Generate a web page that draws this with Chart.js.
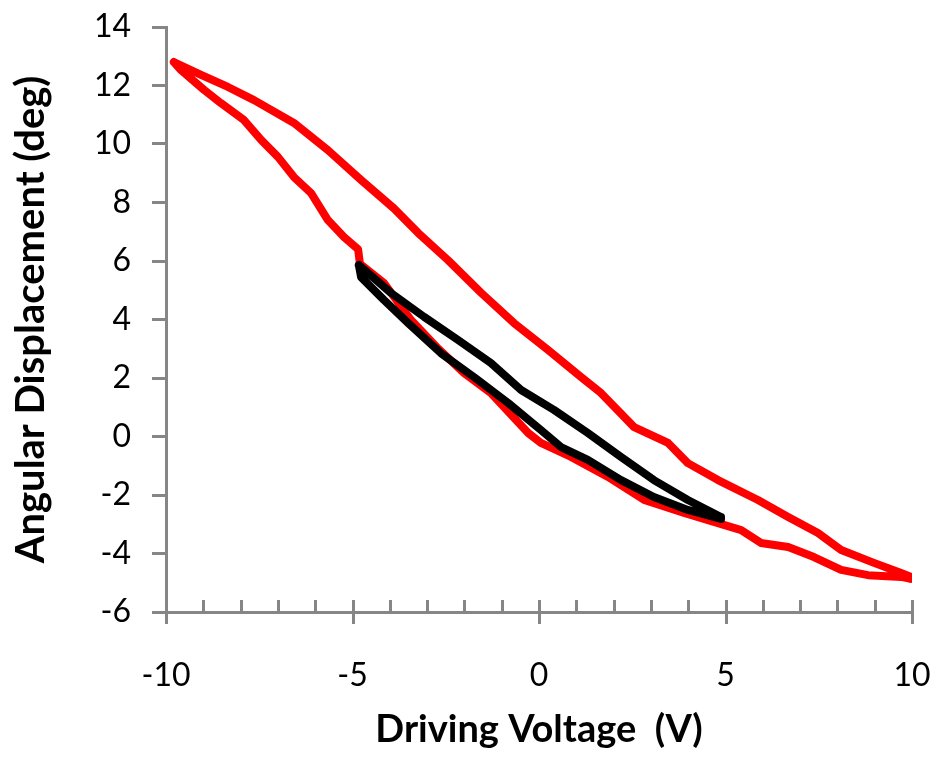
<!DOCTYPE html>
<html>
<head>
<meta charset="utf-8">
<title>Angular displacement vs driving voltage</title>
<script src="https://cdn.jsdelivr.net/npm/chart.js@4.4.1/dist/chart.umd.min.js"></script>
<style>
  html, body { margin: 0; padding: 0; background: #fff; }
  #wrap { width: 940px; height: 758px; }
</style>
</head>
<body>
<div id="wrap"><canvas id="chart" width="940" height="758"></canvas></div>
<script>
// Tick values
const xTicks = [-10, -5, 0, 5, 10];
const yTicks = [-6, -4, -2, 0, 2, 4, 6, 8, 10, 12, 14];
const xMinorStep = 1;

// Red loop (+/-10 V): upper branch left->right, then lower branch right->left
const redX = [
  -9.79, -9.06, -8.34, -7.64, -6.57, -5.66, -4.77, -3.89, -3.24, -2.44,
  -1.55, -0.67, 0.24, 1.13, 1.66, 2.55, 3.46, 3.99, 4.80, 5.87,
  6.68, 7.48, 8.10, 8.98, 9.71, 9.97,
  9.97, 9.71, 8.82, 8.10, 7.37, 6.68, 5.95, 5.42, 4.80, 3.89,
  2.82, 1.85, 0.86, 0.05, -0.29, -1.29, -2.01, -2.70, -3.43, -4.16,
  -4.80, -4.85, -5.23, -5.66, -6.11, -6.57, -7.00, -7.45, -7.91, -8.53,
  -8.98, -9.60, -9.79
];
const redY = [
  12.80, 12.36, 11.95, 11.50, 10.72, 9.79, 8.77, 7.80, 6.96, 6.03,
  4.91, 3.88, 2.96, 2.03, 1.49, 0.32, -0.22, -0.91, -1.49, -2.17,
  -2.75, -3.30, -3.88, -4.32, -4.67, -4.80,
  -4.87, -4.80, -4.74, -4.56, -4.12, -3.78, -3.64, -3.20, -2.96, -2.61,
  -2.17, -1.38, -0.70, -0.22, 0.12, 1.49, 2.17, 3.00, 3.98, 5.25,
  5.90, 6.40, 6.82, 7.40, 8.32, 8.87, 9.56, 10.14, 10.82, 11.40,
  11.85, 12.53, 12.80
];

// Black loop (+/-5 V)
const blackX = [
  -4.83, -3.97, -3.08, -2.17, -1.29, -0.48, 0.40, 1.31, 2.20, 3.08,
  3.99, 4.88,
  4.88, 3.99, 3.08, 2.20, 1.31, 0.59, 0.05, -0.83, -1.74, -2.63,
  -3.51, -4.16, -4.77, -4.83
];
const blackY = [
  5.86, 4.91, 4.09, 3.30, 2.51, 1.59, 0.91, 0.12, -0.70, -1.49,
  -2.17, -2.75,
  -2.82, -2.51, -2.07, -1.49, -0.80, -0.36, 0.22, 1.15, 2.03, 2.85,
  3.88, 4.67, 5.45, 5.86
];

const AXIS_GREY = '#868686';
const FONT = 'Lato, Carlito, "Open Sans", sans-serif';

function toPoints(xs, ys) {
  return xs.map((x, i) => ({ x: x, y: ys[i] }));
}

// minor/major tick marks on the x axis (minor inside, major crossing)
const xTickMarks = {
  id: 'xTickMarks',
  afterDraw(chart) {
    const xs = chart.scales.x;
    const ctx = chart.ctx;
    const base = xs.top;
    ctx.save();
    ctx.strokeStyle = AXIS_GREY;
    ctx.lineWidth = 3;
    ctx.beginPath();
    for (let v = xs.min; v <= xs.max; v += xMinorStep) {
      const px = Math.round(xs.getPixelForValue(v)) + 0.5;
      const major = xTicks.includes(v);
      ctx.moveTo(px, base - 12);
      ctx.lineTo(px, major ? base + 12 : base);
    }
    ctx.stroke();
    ctx.restore();
  }
};

// keep the plot area where the layout padding puts it
function noEdgePadding(s) {
  s.paddingLeft = 0;
  s.paddingRight = 0;
  s.paddingTop = 0;
  s.paddingBottom = 0;
}

const ctx = document.getElementById('chart').getContext('2d');
new Chart(ctx, {
  type: 'scatter',
  data: {
    datasets: [
      {
        label: '+/-5 V',
        data: toPoints(blackX, blackY),
        showLine: true,
        borderColor: '#000000',
        backgroundColor: '#000000',
        borderWidth: 8,
        borderJoinStyle: 'round',
        borderCapStyle: 'round',
        pointRadius: 0,
        tension: 0,
        fill: false
      },
      {
        label: '+/-10 V',
        data: toPoints(redX, redY),
        showLine: true,
        borderColor: '#ff0000',
        backgroundColor: '#ff0000',
        borderWidth: 8,
        borderJoinStyle: 'round',
        borderCapStyle: 'round',
        pointRadius: 0,
        tension: 0,
        fill: false
      }
    ]
  },
  options: {
    responsive: false,
    animation: false,
    events: [],
    layout: { padding: { top: 27, right: 28, left: 0, bottom: 0 } },
    plugins: {
      legend: { display: false },
      tooltip: { enabled: false }
    },
    scales: {
      x: {
        type: 'linear',
        min: -10,
        max: 10,
        afterBuildTicks: s => { s.ticks = xTicks.map(v => ({ value: v })); },
        afterFit: s => { s.height = 146; noEdgePadding(s); },
        grid: { display: false, drawTicks: false },
        border: { display: true, color: AXIS_GREY, width: 3 },
        ticks: {
          padding: 44,
          maxRotation: 0,
          color: '#000',
          font: { family: FONT, size: 32 }
        },
        title: {
          display: true,
          text: 'Driving Voltage  (V)',
          color: '#000',
          font: { family: FONT, size: 38, weight: 'bold' },
          padding: { top: 0, bottom: 5 }
        }
      },
      y: {
        type: 'linear',
        min: -6,
        max: 14,
        afterBuildTicks: s => { s.ticks = yTicks.map(v => ({ value: v })); },
        afterFit: s => { s.width = 166; noEdgePadding(s); },
        grid: {
          display: true,
          drawOnChartArea: false,
          drawTicks: true,
          tickLength: 14,
          color: AXIS_GREY,
          lineWidth: 3
        },
        border: { display: true, color: AXIS_GREY, width: 3 },
        ticks: {
          padding: 21,
          color: '#000',
          font: { family: FONT, size: 32 }
        },
        title: {
          display: true,
          text: 'Angular Displacement (deg)',
          color: '#000',
          font: { family: FONT, size: 40, weight: 'bold' },
          padding: { top: 7, bottom: 0 }
        }
      }
    }
  },
  plugins: [xTickMarks]
});
</script>
</body>
</html>
